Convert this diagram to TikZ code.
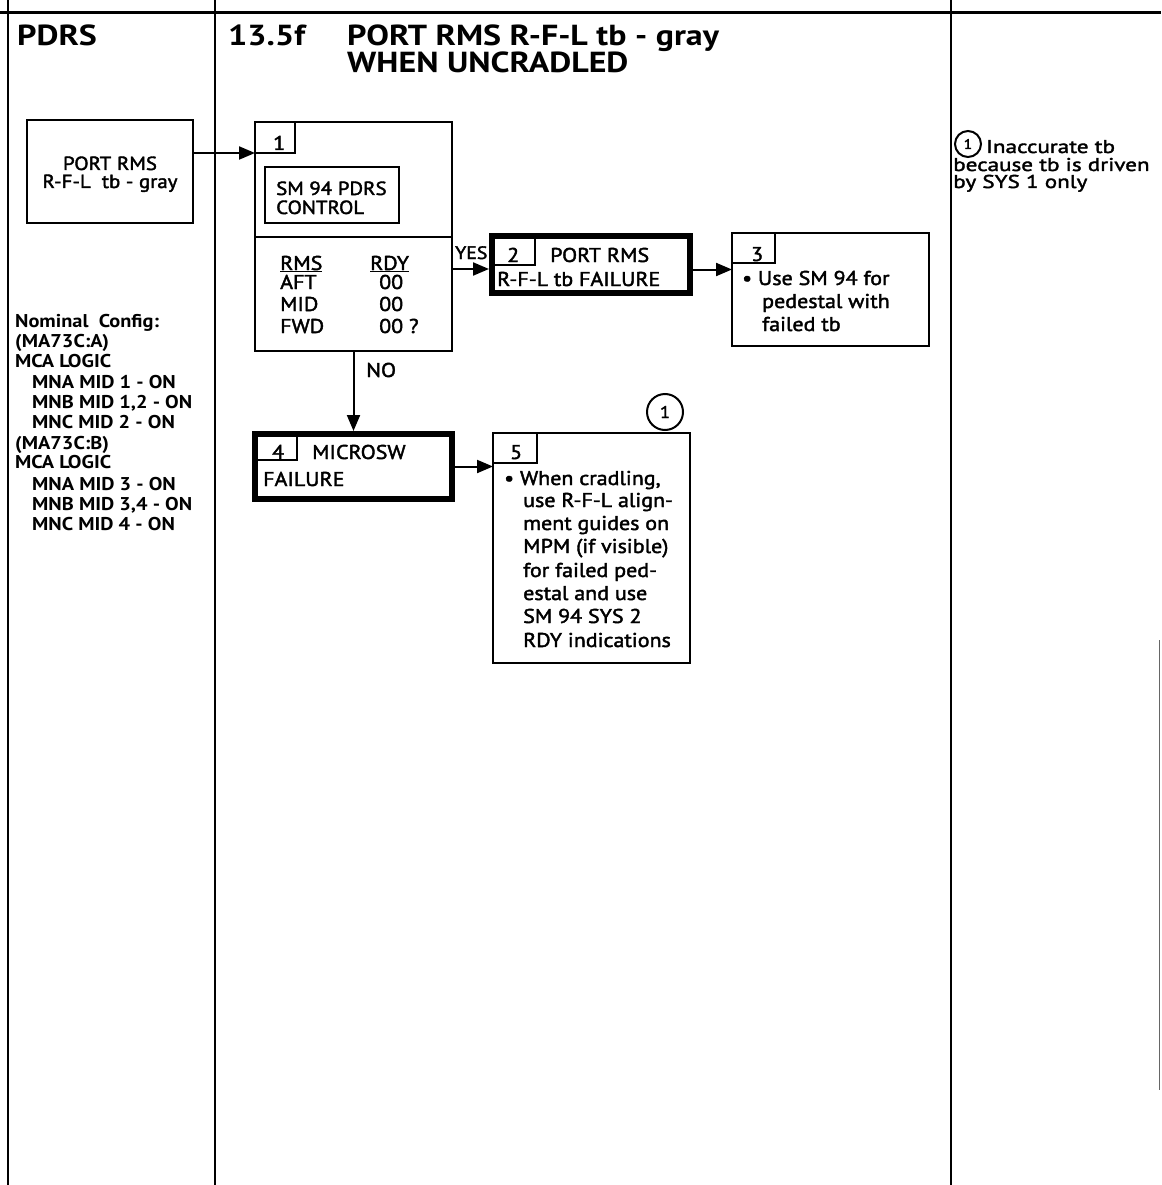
\documentclass[tikz,border=0pt]{standalone}
\usepackage{fontspec}
\setmainfont{PT Sans}[FakeStretch=1.1, UprightFeatures={FakeBold=2}]
\newfontfamily\notefont{PT Sans}[FakeStretch=1.25, FakeBold=2]
\newfontfamily\titlefont{PT Sans}[FakeStretch=1.17]
\newfontfamily\cfgfont{PT Sans}[FakeStretch=1.1]
\usetikzlibrary{arrows.meta}
\newcommand\bodysz{\fontsize{20}{23}\selectfont}
\newcommand\smallsz{\fontsize{19}{20}\selectfont}
\newcommand\titlesz{\titlefont\bfseries\fontsize{29}{27}\selectfont}
\newcommand\cfgsz{\cfgfont\bfseries\fontsize{18.5}{20}\selectfont}
\newcommand\notesz{\notefont\fontsize{18.5}{17}\selectfont}
\begin{document}
\begin{tikzpicture}[x=1pt,y=-1pt,
  rule/.style={line width=2pt},
  box/.style={draw, line width=2pt, anchor=north west, inner sep=0pt, outer sep=0pt},
  heavy/.style={draw, line width=6pt, anchor=north west, inner sep=0pt, outer sep=0pt},
  tabbox/.style={anchor=north west, inner sep=0pt, outer sep=0pt},
  txt/.style={anchor=base west, inner sep=0pt, font=\bodysz},
  ctxt/.style={anchor=base, inner sep=0pt, font=\smallsz},
  cfg/.style={anchor=base west, inner sep=0pt, font=\cfgsz},
  note/.style={anchor=base west, inner sep=0pt, font=\notesz},
  ttl/.style={anchor=base west, inner sep=0pt, font=\titlesz},
  arr/.style={line width=2pt, -{Triangle[length=16pt,width=13pt]}},
  circ/.style={draw, circle, line width=2pt, inner sep=0pt},
]
\useasboundingbox (0,0) rectangle (1161,1185);
\fill[white] (0,0) rectangle (1161,1185);

% page frame
\draw[line width=3pt] (0,13) -- (1161,13);
\draw[rule] (8,0) -- (8,1185);
\draw[rule] (215,0) -- (215,1185);
\draw[rule] (951,0) -- (951,1185);
\draw[line width=1pt, black!60] (1159,640) -- (1159,1090);

% headings
\node[ttl] (hdrPDRS) at (17,46) {PDRS};
\node[ttl] (hdrNum) at (228,46) {13.5f};
\node[ttl] (hdrT1) at (347,46) {PORT RMS R-F-L tb - gray};
\node[ttl] (hdrT2) at (347,73) {WHEN UNCRADLED};

% start box
\node[box, minimum width=166pt, minimum height=103pt] (start) at (27,120) {};
\node[ctxt] (startA) at (110,170) {PORT RMS};
\node[ctxt] (startB) at (110,188) {R-F-L\ \ tb - gray};

% box 1
\node[box, minimum width=197pt, minimum height=229pt] (box1) at (255,122) {};
\node[tabbox, minimum width=40pt, minimum height=31pt] (tab1) at (box1.north west) {};
\draw[rule] (tab1.north east) -- (tab1.south east) -- (tab1.south west);
\node[txt] (num1) at (273,150) {1};
\node[box, minimum width=134pt, minimum height=56pt] (inner1) at (265,167) {};
\node[txt, font=\smallsz] (inA) at (276,195) {SM 94 PDRS};
\node[txt, font=\smallsz] (inB) at (276,214) {CONTROL};
\draw[rule] (255,237) -- (452,237);
\node[txt] (tRMS) at (280,270) {\underline{RMS}};
\node[txt] (tRDY) at (370,270) {\underline{RDY}};
\node[txt] (tAFT) at (280,289) {AFT};
\node[txt] (tAFTv) at (379,289) {00};
\node[txt] (tMID) at (280,311) {MID};
\node[txt] (tMIDv) at (379,311) {00};
\node[txt] (tFWD) at (280,333) {FWD};
\node[txt] (tFWDv) at (379,333) {00 ?};

% box 2
\node[heavy, minimum width=198pt, minimum height=57pt] (box2) at (492,236) {};
\node[tabbox, minimum width=43pt, minimum height=29pt] (tab2) at (box2.north west) {};
\draw[rule] (tab2.north east) -- (tab2.south east) -- (tab2.south west);
\node[txt] (num2) at (507,262) {2};
\node[txt] (b2A) at (550,262) {PORT RMS};
\node[txt] (b2B) at (497,286) {R-F-L tb FAILURE};

% box 3
\node[box, minimum width=197pt, minimum height=113pt] (box3) at (732,233) {};
\node[tabbox, minimum width=43pt, minimum height=30pt] (tab3) at (box3.north west) {};
\draw[rule] (tab3.north east) -- (tab3.south east) -- (tab3.south west);
\node[txt] (num3) at (751,261) {3};
\node[txt] (b3A) at (742,285) {\textbullet\ Use SM 94 for};
\node[txt] (b3B) at (762,308) {pedestal with};
\node[txt] (b3C) at (762,331) {failed tb};

% box 4
\node[heavy, minimum width=197pt, minimum height=65pt] (box4) at (255,434) {};
\node[tabbox, minimum width=42pt, minimum height=26pt] (tab4) at (box4.north west) {};
\draw[rule] (tab4.north east) -- (tab4.south east) -- (tab4.south west);
\node[txt] (num4) at (272,459) {4};
\node[txt] (b4A) at (312,459) {MICROSW};
\node[txt] (b4B) at (263,486) {FAILURE};

% box 5
\node[box, minimum width=197pt, minimum height=230pt] (box5) at (493,433) {};
\node[tabbox, minimum width=44pt, minimum height=30pt] (tab5) at (box5.north west) {};
\draw[rule] (tab5.north east) -- (tab5.south east) -- (tab5.south west);
\node[txt] (num5) at (510,459) {5};
\node[txt] (b5A) at (504,485) {\textbullet\ When cradling,};
\node[txt] (b5B) at (523,507) {use R-F-L align-};
\node[txt] (b5C) at (523,530) {ment guides on};
\node[txt] (b5D) at (523,553) {MPM (if visible)};
\node[txt] (b5E) at (523,577) {for failed ped-};
\node[txt] (b5F) at (523,600) {estal and use};
\node[txt] (b5G) at (523,623) {SM 94 SYS 2};
\node[txt] (b5H) at (523,647) {RDY indications};
\node[circ, minimum size=36pt, font=\fontsize{17}{17}\selectfont] (ref5) at (665,412) {1};

% connectors
\draw[arr] (start.east |- tab1.south) -- (tab1.south west);
\draw[arr, shorten >=3pt] (box1.east |- 0,269) -- (box2.west |- 0,269);
\node[txt, font=\fontsize{18}{20}\selectfont] (yes) at (455,259) {YES};
\draw[arr] ([yshift=-5pt]box2.east) -- ([yshift=-5pt]box2.east -| box3.west);
\draw[arr, shorten >=3pt] (box1.south) -- (box4.north);
\node[txt] (no) at (366,377) {NO};
\draw[arr] (box4.east) -- (box4.east -| box5.west);

% nominal config
\node[cfg] (c1) at (15,327) {Nominal\ \ Config:};
\node[cfg] (c2) at (15,347) {(MA73C:A)};
\node[cfg] (c3) at (15,367) {MCA LOGIC};
\node[cfg] (c4) at (32,388) {MNA MID 1 - ON};
\node[cfg] (c5) at (32,408) {MNB MID 1,2 - ON};
\node[cfg] (c6) at (32,428) {MNC MID 2 - ON};
\node[cfg] (c7) at (15,449) {(MA73C:B)};
\node[cfg] (c8) at (15,468) {MCA LOGIC};
\node[cfg] (c9) at (32,490) {MNA MID 3 - ON};
\node[cfg] (c10) at (32,510) {MNB MID 3,4 - ON};
\node[cfg] (c11) at (32,530) {MNC MID 4 - ON};

% note column
\node[circ, minimum size=26pt, font=\fontsize{14}{14}\selectfont] (noteRef) at (968,144) {1};
\node[note] (n1) at (986,153) {Inaccurate tb};
\node[note] (n2) at (953,171) {because tb is driven};
\node[note] (n3) at (953,188) {by SYS 1 only};
\end{tikzpicture}
\end{document}
